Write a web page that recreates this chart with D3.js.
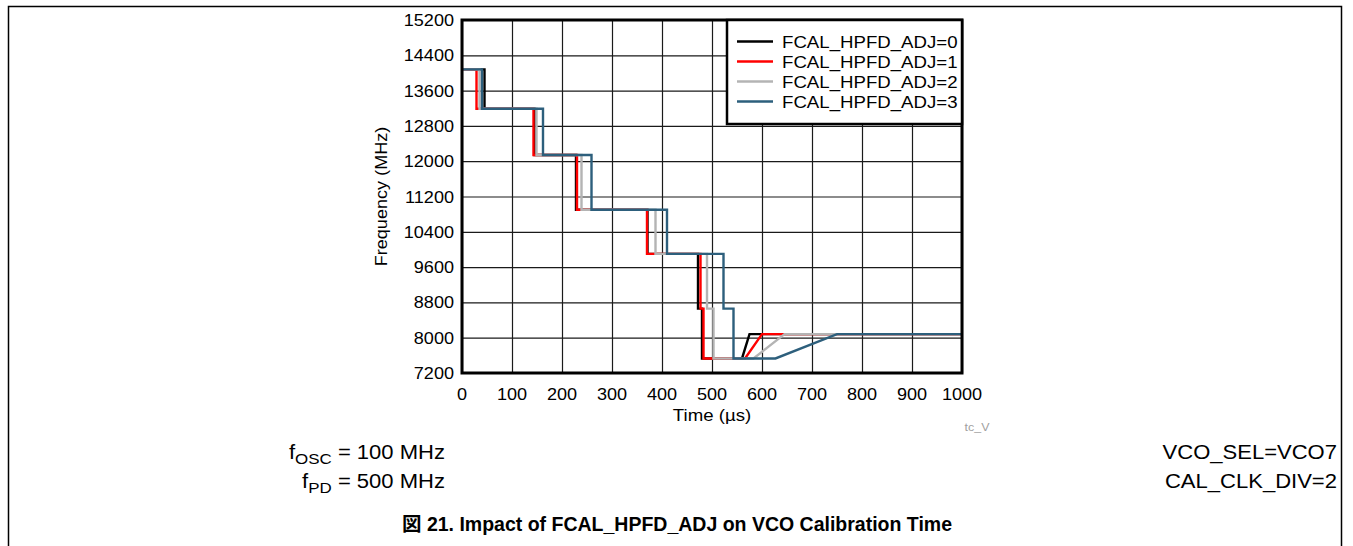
<!DOCTYPE html>
<html>
<head>
<meta charset="utf-8">
<script src="https://cdn.jsdelivr.net/npm/d3@7"></script>
<style>
  html, body { margin: 0; padding: 0; background: #fff; }
  svg { display: block; }
  text { font-family: "Liberation Sans", Arial, sans-serif; fill: #000; }
</style>
</head>
<body>
<svg id="chart" width="1353" height="546"></svg>
<script>
// ---- data (time in µs, frequency in MHz) ----
const xTicks = [0, 100, 200, 300, 400, 500, 600, 700, 800, 900, 1000];
const yTicks = [7200, 8000, 8800, 9600, 10400, 11200, 12000, 12800, 13600, 14400, 15200];
const seriesNames = ["FCAL_HPFD_ADJ=0", "FCAL_HPFD_ADJ=1", "FCAL_HPFD_ADJ=2", "FCAL_HPFD_ADJ=3"];
const seriesColors = ["#000000", "#ff0000", "#b4b4b4", "#2d5f7c"];

const adj0 = [[0,14080],[45,14080],[45,13190],[145,13190],[145,12140],[228,12140],[228,10900],[371,10900],[371,9900],[472,9900],[472,8660],[480,8660],[480,7530],[560,7530],[575,8080],[1000,8080]];
const adj1 = [[0,14080],[29,14080],[29,13190],[143,13190],[143,12140],[230,12140],[230,10900],[370,10900],[370,9900],[477,9900],[477,8660],[483,8660],[483,7530],[566,7530],[600,8080],[1000,8080]];
const adj2 = [[0,14080],[35,14080],[35,13190],[149,13190],[149,12140],[239,12140],[239,10900],[387,10900],[387,9900],[490,9900],[490,8660],[503,8660],[503,7530],[583,7530],[645,8080],[1000,8080]];
const adj3 = [[0,14080],[40,14080],[40,13190],[162,13190],[162,12140],[259,12140],[259,10900],[410,10900],[410,9900],[523,9900],[523,8660],[543,8660],[543,7530],[627,7530],[750,8080],[1000,8080]];
const allSeries = [adj0, adj1, adj2, adj3];

// ---- layout ----
const svg = d3.select("#chart");
const L = 462, R = 962, T = 20, B = 373;
const K = 1.13; // horizontal glyph stretch of the reference typeface
const x = d3.scaleLinear().domain([0, 1000]).range([L, R]);
const y = d3.scaleLinear().domain([7200, 15200]).range([B, T]);

function addText(parent, px, py, str, size, anchor, k) {
  const g = parent.append("g").attr("transform", `translate(${px},${py}) scale(${k === undefined ? K : k},1)`);
  return g.append("text").attr("x", 0).attr("y", 0)
    .attr("text-anchor", anchor || "start").style("font-size", size + "px").text(str);
}

// page frame
svg.append("path")
  .attr("d", "M8.5,546 V6.5 H1341.5 V546")
  .attr("fill", "none").attr("stroke", "#000").attr("stroke-width", 1.5);

// grid
const gx = svg.append("g").attr("transform", `translate(0,${B})`)
  .call(d3.axisBottom(x).tickValues(xTicks).tickSize(-(B - T)).tickFormat(""));
const gy = svg.append("g").attr("transform", `translate(${L},0)`)
  .call(d3.axisLeft(y).tickValues(yTicks).tickSize(-(R - L)).tickFormat(""));
[gx, gy].forEach(g => {
  g.select(".domain").remove();
  g.selectAll(".tick line").attr("stroke", "#1a1a1a").attr("stroke-width", 1.2);
});

// tick labels
const xl = svg.append("g");
xTicks.forEach(d => addText(xl, x(d), B + 27, d, 16, "middle"));
const yl = svg.append("g");
yTicks.forEach(d => addText(yl, L - 8, y(d) + 6, d, 16, "end"));

// axis titles
addText(svg, 712, 421, "Time (µs)", 16.5, "middle");
svg.append("g").attr("transform", `translate(387,${(T + B) / 2}) rotate(-90) scale(${K},1)`)
  .append("text").attr("text-anchor", "middle").style("font-size", "16px").text("Frequency (MHz)");

// lines
svg.append("clipPath").attr("id", "clip").append("rect")
  .attr("x", L).attr("y", T).attr("width", R - L).attr("height", B - T);
const line = d3.line().x(d => x(d[0])).y(d => y(d[1]));
svg.append("g").attr("clip-path", "url(#clip)")
  .selectAll("path").data(allSeries).join("path")
  .attr("d", line)
  .attr("fill", "none")
  .attr("stroke", (d, i) => seriesColors[i])
  .attr("stroke-width", 2.4)
  .attr("stroke-linejoin", "miter");

// plot frame
svg.append("rect").attr("x", L).attr("y", T).attr("width", R - L).attr("height", B - T)
  .attr("fill", "none").attr("stroke", "#000").attr("stroke-width", 3);

// legend
const lg = svg.append("g");
lg.append("rect").attr("x", 727).attr("y", T).attr("width", R - 727).attr("height", 104)
  .attr("fill", "#fff").attr("stroke", "#000").attr("stroke-width", 2.5);
seriesNames.forEach((name, i) => {
  const ry = 41.5 + i * 20;
  lg.append("line").attr("x1", 737).attr("x2", 773).attr("y1", ry).attr("y2", ry)
    .attr("stroke", seriesColors[i]).attr("stroke-width", 2.4);
  addText(lg, 782, ry + 6, name, 16.5, "start");
});

// watermark
addText(svg, 977, 431, "tc_V", 11, "middle").style("fill", "#a0a0a0");

// conditions
function condText(px, py, main, sub, rest) {
  const t = addText(svg, px, py, "", 19.5, "end");
  t.append("tspan").text(main);
  t.append("tspan").attr("dy", 5).style("font-size", "15px").text(sub);
  t.append("tspan").attr("dy", -5).text(rest);
  return t;
}
condText(445, 459, "f", "OSC", " = 100 MHz");
condText(445, 488, "f", "PD", " = 500 MHz");
addText(svg, 1337, 459, "VCO_SEL=VCO7", 19.5, "end");
addText(svg, 1337, 488, "CAL_CLK_DIV=2", 19.5, "end");

// caption
addText(svg, 677, 531, "図 21. Impact of FCAL_HPFD_ADJ on VCO Calibration Time", 19.5, "middle", 1.0)
  .style("font-weight", "bold")
  .style("font-family", "'Liberation Sans', 'Noto Sans CJK JP', sans-serif");
</script>
</body>
</html>
